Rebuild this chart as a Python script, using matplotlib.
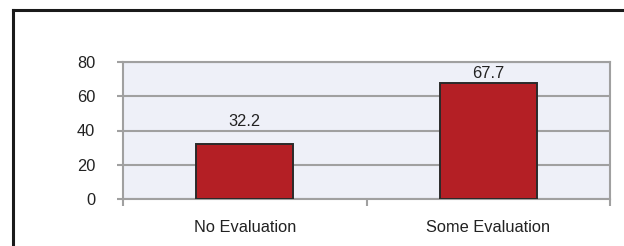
import matplotlib.pyplot as plt
from matplotlib.lines import Line2D
from matplotlib.ticker import FixedLocator

categories = ['No Evaluation', 'Some Evaluation']
values = [32.2, 67.7]
label_values = ['32.2', '67.7']
yticks = [0, 20, 40, 60, 80]


def main():
    plt.rcParams['font.family'] = ['Liberation Sans', 'DejaVu Sans']

    fig = plt.figure(figsize=(6.24, 2.46), dpi=100)
    fig.patch.set_facecolor('white')

    # outer frame: only the left and top edges are visible in the crop
    fig.add_artist(Line2D([13 / 624, 13 / 624], [0, 1 - 10 / 246], transform=fig.transFigure,
                          color='#1a1a1a', lw=2.2))
    fig.add_artist(Line2D([13 / 624, 1], [1 - 10 / 246, 1 - 10 / 246], transform=fig.transFigure,
                          color='#1a1a1a', lw=2.2))

    ax = fig.add_axes([123 / 624, 1 - 199 / 246, (610 - 123) / 624, (199 - 62) / 246])
    ax.set_facecolor('#eef0f8')

    x = list(range(len(categories)))
    bars = ax.bar(x, values, width=0.4, color='#b41f25', edgecolor='#2a2a2a', linewidth=1.4, zorder=3)

    offsets = [11, 1.5]
    for b, txt, off in zip(bars, label_values, offsets):
        ax.annotate(txt, (b.get_x() + b.get_width() / 2, b.get_height()),
                    xytext=(0, off), textcoords='offset points',
                    ha='center', va='bottom', fontsize=11.8, color='#222222')

    ax.set_xlim(-0.5, len(categories) - 0.5)
    ax.set_ylim(0, 80)
    ax.set_yticks(yticks)
    ax.yaxis.grid(True, color='#a0a0a0', lw=1.5, zorder=1)
    ax.set_axisbelow(True)

    ax.set_xticks(x)
    ax.set_xticklabels(categories)
    ax.xaxis.set_minor_locator(FixedLocator([-0.5, 0.5, 1.5]))
    ax.tick_params(axis='x', which='major', length=0, pad=15, labelsize=11.8, labelcolor='#222222')
    ax.tick_params(axis='x', which='minor', length=5, width=1.5, color='#a0a0a0', direction='out')
    ax.tick_params(axis='y', length=4.5, width=1.5, color='#a0a0a0', pad=15.5,
                   labelsize=11.8, labelcolor='#222222')

    for s in ax.spines.values():
        s.set_color('#a0a0a0')
        s.set_linewidth(1.5)

    fig.savefig('out.png', dpi=100)


if __name__ == '__main__':
    main()
